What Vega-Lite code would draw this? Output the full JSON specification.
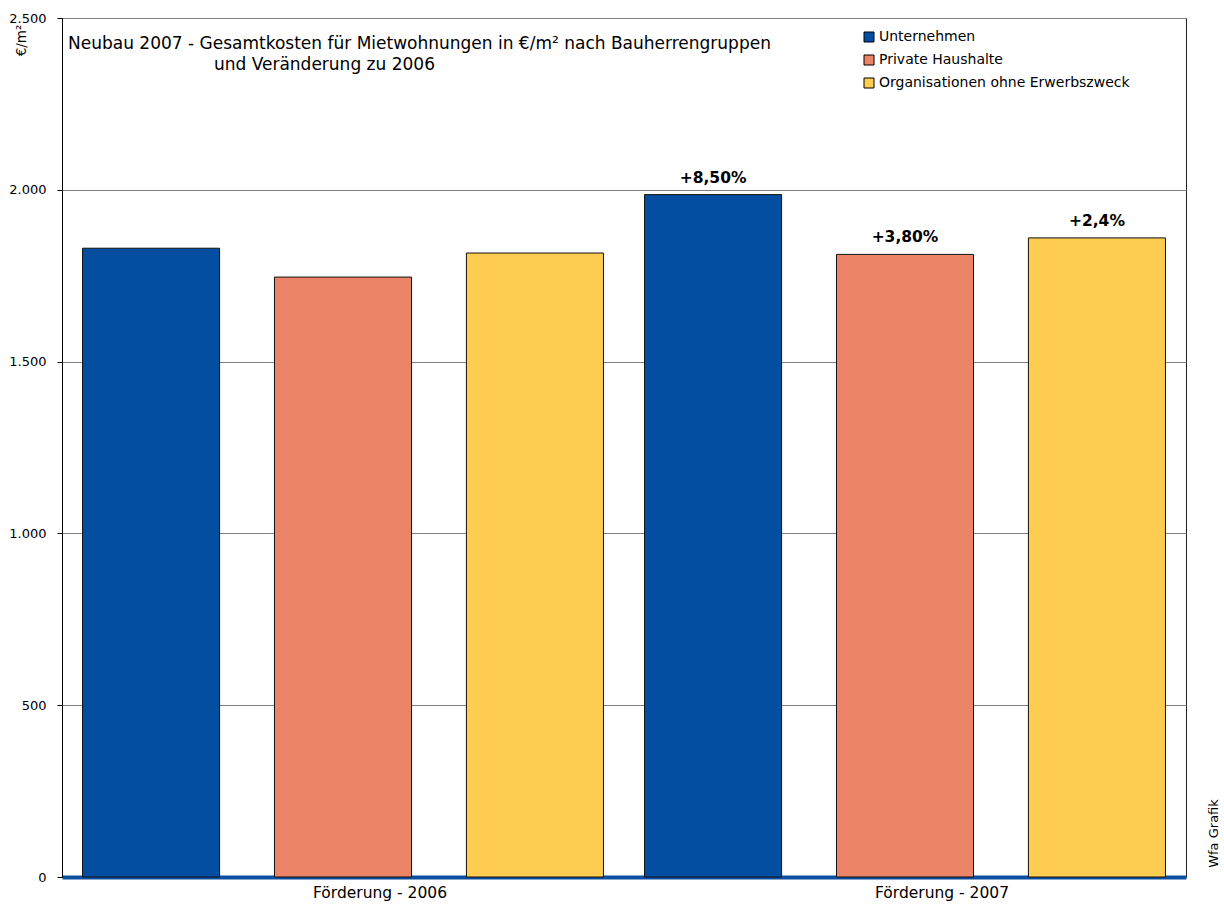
{
  "$schema": "https://vega.github.io/schema/vega-lite/v6.json",
  "width": 1124,
  "height": 859,
  "autosize": {"type": "none"},
  "padding": {"left": 62, "top": 18, "right": 38, "bottom": 29},
  "background": "white",
  "config": {
    "font": "DejaVu Sans",
    "view": {"stroke": "#222", "strokeWidth": 1}
  },
  "title": {
    "text": ["Neubau 2007 - Gesamtkosten für Mietwohnungen in €/m² nach Bauherrengruppen", "\u200b\u00a0\u00a0\u00a0\u00a0\u00a0\u00a0\u00a0\u00a0\u00a0\u00a0\u00a0\u00a0\u00a0\u00a0\u00a0\u00a0\u00a0\u00a0\u00a0\u00a0\u00a0\u00a0\u00a0\u00a0\u00a0\u00a0\u00a0und Veränderung zu 2006"],
    "orient": "top",
    "anchor": "start",
    "frame": "group",
    "align": "left",
    "offset": -62,
    "dx": 6,
    "fontSize": 17,
    "fontWeight": "normal",
    "lineHeight": 21,
    "color": "#000"
  },
  "data": {
    "values": [
      {"gruppe": "Förderung - 2006", "bauherr": "Unternehmen", "wert": 1830, "label": ""},
      {"gruppe": "Förderung - 2006", "bauherr": "Private Haushalte", "wert": 1746, "label": ""},
      {"gruppe": "Förderung - 2006", "bauherr": "Organisationen ohne Erwerbszweck", "wert": 1816, "label": ""},
      {"gruppe": "Förderung - 2007", "bauherr": "Unternehmen", "wert": 1986, "label": "+8,50%"},
      {"gruppe": "Förderung - 2007", "bauherr": "Private Haushalte", "wert": 1812, "label": "+3,80%"},
      {"gruppe": "Förderung - 2007", "bauherr": "Organisationen ohne Erwerbszweck", "wert": 1860, "label": "+2,4%"}
    ]
  },
  "layer": [
    {
      "mark": {"type": "bar", "stroke": "#111", "strokeWidth": 1},
      "encoding": {
        "x": {
          "field": "gruppe", "type": "nominal",
          "scale": {"paddingInner": 0, "paddingOuter": 0},
          "axis": {
            "title": null, "labelAngle": 0, "domainColor": "#0a4fa0", "domainWidth": 4,
            "ticks": false, "tickSize": 0, "labelFontSize": 15.5, "labelColor": "#000",
            "labelPadding": 8, "labelOffset": 37
          }
        },
        "xOffset": {
          "field": "bauherr", "type": "nominal",
          "sort": ["Unternehmen", "Private Haushalte", "Organisationen ohne Erwerbszweck"],
          "scale": {"paddingInner": 0.286, "paddingOuter": 0.107}
        },
        "y": {
          "field": "wert", "type": "quantitative",
          "scale": {"domain": [0, 2500], "nice": false},
          "axis": {
            "values": [0, 500, 1000, 1500, 2000, 2500],
            "labelExpr": "replace(format(datum.value, ','), ',', '.')",
            "grid": true, "gridColor": "#808080", "gridWidth": 1,
            "domainColor": "#000", "tickColor": "#000", "tickSize": 5,
            "labelFontSize": 13, "labelColor": "#000", "labelPadding": 11,
            "title": "€/m²", "titleFontSize": 13.5, "titleFontWeight": "normal", "titleColor": "#000",
            "titleAngle": -90, "titleX": -41, "titleY": 22, "titleAlign": "center", "titleBaseline": "middle"
          }
        },
        "color": {
          "field": "bauherr", "type": "nominal",
          "scale": {
            "domain": ["Unternehmen", "Private Haushalte", "Organisationen ohne Erwerbszweck"],
            "range": ["#044ea1", "#ec8467", "#fecc50"]
          },
          "legend": {
            "title": null, "orient": "none", "legendX": 800, "legendY": 12,
            "symbolType": "square", "symbolSize": 100, "symbolStrokeColor": "#000", "symbolStrokeWidth": 1,
            "symbolOpacity": 1, "labelLimit": 0,
            "labelFontSize": 14, "labelColor": "#000", "labelOffset": 3, "rowPadding": 9
          }
        }
      }
    },
    {
      "transform": [{"filter": "datum.label != ''"}],
      "mark": {"type": "text", "fontWeight": "bold", "fontSize": 15.5, "baseline": "bottom", "dy": -9, "color": "#000"},
      "encoding": {
        "x": {"field": "gruppe", "type": "nominal"},
        "xOffset": {
          "field": "bauherr", "type": "nominal",
          "sort": ["Unternehmen", "Private Haushalte", "Organisationen ohne Erwerbszweck"]
        },
        "y": {
          "field": "wert", "type": "quantitative",
          "axis": {
            "orient": "right", "labels": false, "ticks": false, "domain": false, "grid": false,
            "title": "Wfa Grafik", "titleAngle": -90, "titleX": 27, "titleY": 815,
            "titleAlign": "center", "titleBaseline": "middle",
            "titleFontSize": 13, "titleFontWeight": "normal", "titleColor": "#000"
          }
        },
        "text": {"field": "label"}
      }
    }
  ],
  "resolve": {"axis": {"y": "independent"}}
}
